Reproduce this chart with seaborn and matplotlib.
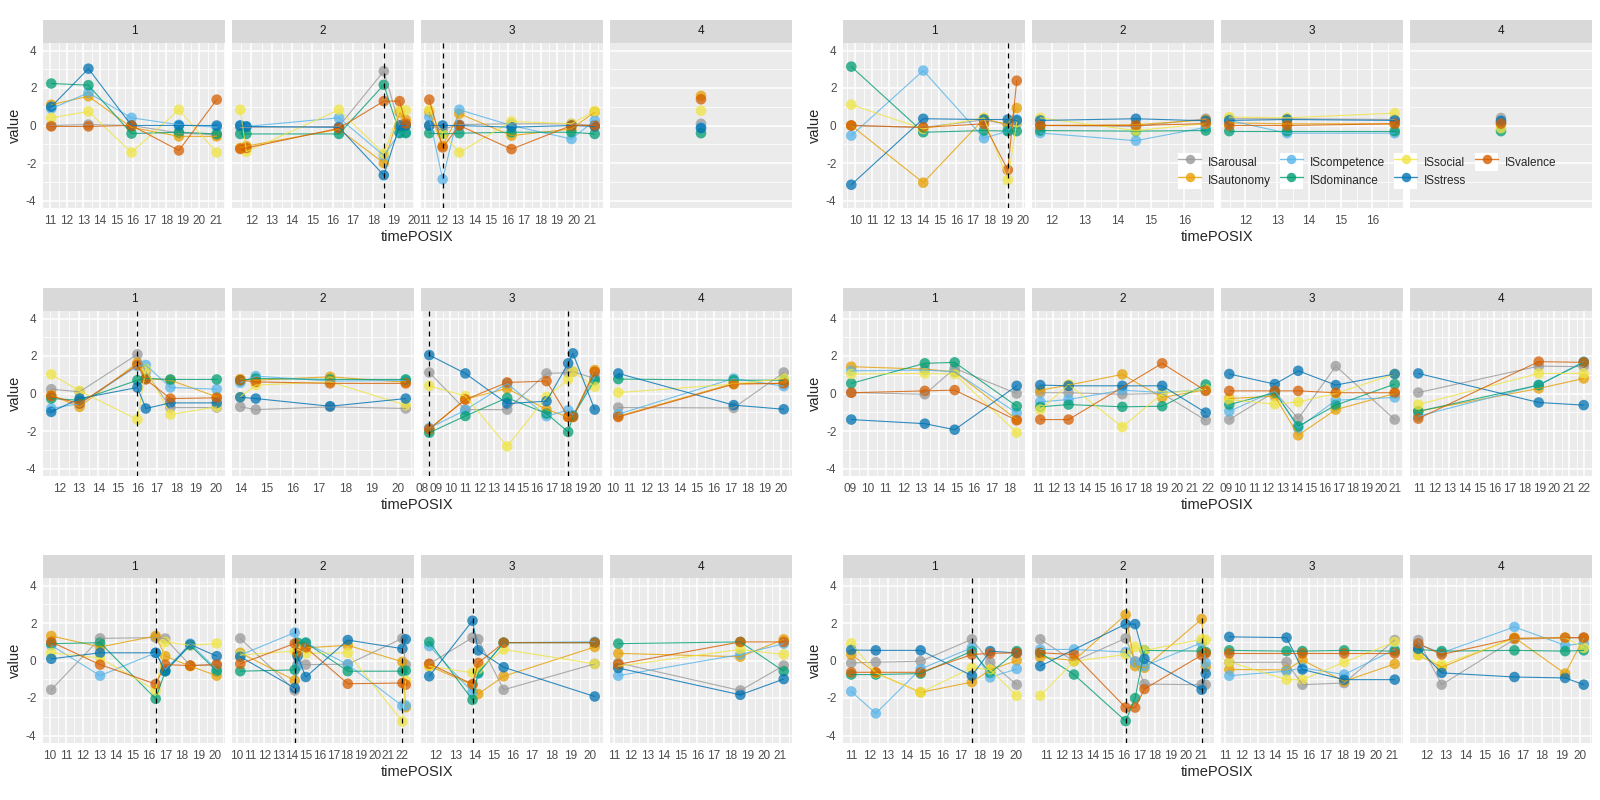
import matplotlib
matplotlib.use("Agg")
import matplotlib.pyplot as plt
from matplotlib.lines import Line2D
from matplotlib.patches import Rectangle
from matplotlib.legend_handler import HandlerLine2D
import numpy as np
import pandas as pd
import seaborn as sns

SERIES = ["ISarousal", "ISautonomy", "IScompetence", "ISdominance",
          "ISsocial", "ISstress", "ISvalence"]
COLORS = ["#999999", "#E69F00", "#56B4E9", "#009E73", "#F0E442", "#0072B2", "#D55E00"]

# ---- panel A (top left) ----
a_facet = [1, 1, 1, 1, 1, 2, 2, 2, 2, 2, 2, 3, 3, 3, 3, 3, 3, 4]
a_time = [11.06, 13.3, 15.9, 18.76, 21.04, 11.45, 11.75, 16.31, 18.52, 19.3, 19.6,
          11.26, 12.07, 13.08, 16.24, 19.87, 21.28, 15.0]
a_arousal = [0.0, 0.05, 0.0, -0.4, -0.5, -0.1, -0.1, -0.05, 2.9, 0.0, 0.0,
             0.0, -0.2, 0.05, 0.09, 0.09, 0.0, 0.09]
a_autonomy = [1.11, 1.56, -0.1, -0.58, -0.58, -1.2, -1.1, -0.2, -2.0, 0.7, 0.3,
              0.72, -1.08, 0.63, -0.54, -0.18, 0.72, 1.58]
a_competence = [0.9, 1.74, 0.41, 0.04, -0.09, 0.0, -0.05, 0.41, -1.6, -0.4, -0.4,
                0.45, -2.87, 0.84, 0.0, -0.72, 0.27, -0.1]
a_dominance = [2.24, 2.15, -0.43, -0.36, -0.45, -0.45, -0.45, -0.45, 2.17, -0.4, -0.4,
               -0.41, -0.45, -0.41, -0.36, -0.36, -0.45, -0.41]
a_social = [0.41, 0.75, -1.44, 0.84, -1.44, 0.84, -1.4, 0.84, -1.5, 0.8, 0.82,
            0.84, -0.45, -1.44, 0.22, 0.09, 0.77, 0.79]
a_stress = [1.0, 3.03, 0.0, 0.0, 0.0, 0.0, -0.05, -0.1, -2.65, 0.0, 0.0,
            0.0, 0.0, 0.0, -0.09, 0.0, -0.05, -0.14]
a_valence = [-0.05, -0.05, 0.0, -1.33, 1.38, -1.25, -1.2, -0.15, 1.3, 1.3, 0.1,
             1.38, -1.17, 0.0, -1.26, 0.0, 0.0, 1.4]
a_vline_facet = [2, 3]
a_vline_time = [18.52, 12.07]

# ---- panel B (top right) ----
b_facet = [1, 1, 1, 1, 1, 2, 2, 2, 3, 3, 3, 4]
b_time = [9.76, 14.04, 17.65, 19.07, 19.6, 11.65, 14.54, 16.65, 11.49, 13.31, 16.7, 15.0]
b_arousal = [0.0, -0.1, 0.3, 0.05, 0.09, 0.0, -0.05, 0.36, 0.36, 0.36, 0.32, 0.4]
b_autonomy = [0.0, -3.05, 0.36, 0.05, 0.93, 0.0, 0.04, 0.3, 0.14, 0.09, 0.09, 0.1]
b_competence = [-0.54, 2.93, -0.68, -0.3, 0.32, -0.4, -0.81, -0.1, 0.27, -0.41, -0.41, 0.2]
b_dominance = [3.14, -0.36, -0.27, -0.3, -0.3, -0.27, -0.3, -0.27, -0.3, -0.3, -0.3, -0.3]
b_social = [1.11, -0.18, 0.41, -2.91, 0.18, 0.41, -0.27, 0.1, 0.45, 0.41, 0.66, -0.14]
b_stress = [-3.16, 0.36, 0.32, 0.32, 0.27, 0.27, 0.36, 0.25, 0.27, 0.32, 0.27, 0.25]
b_valence = [0.0, -0.1, 0.09, -2.37, 2.39, 0.0, 0.0, 0.1, 0.0, 0.0, 0.09, 0.1]
b_vline_facet = [1]
b_vline_time = [19.07]

# ---- panel C (middle left) ----
c_facet = [1, 1, 1, 1, 1, 1, 2, 2, 2, 2, 3, 3, 3, 3, 3, 3, 3, 4, 4, 4]
c_time = [11.59, 13.04, 16.0, 16.43, 17.69, 20.06, 14.0, 14.59, 17.42, 20.3,
          8.53, 11.03, 13.93, 16.66, 18.16, 18.49, 20.0, 10.34, 17.19, 20.16]
c_arousal = [0.23, 0.09, 2.09, 1.16, -0.75, -0.75, -0.71, -0.86, -0.71, -0.8,
             1.12, -0.86, -0.86, 1.07, 1.11, 1.16, 0.8, -0.75, -0.77, 1.12]
c_autonomy = [-0.09, -0.71, 1.64, 0.8, 0.71, -0.18, 0.77, 0.71, 0.89, 0.6,
              -1.88, -0.3, 0.27, -0.86, -1.25, -1.25, 1.25, -1.21, 0.54, 0.54]
c_competence = [-0.8, -0.54, 1.46, 1.52, 0.32, 0.23, 0.57, 0.93, 0.66, 0.7,
                -1.84, -0.89, 0.54, -1.21, -0.89, -1.16, 0.89, -1.1, 0.8, 0.39]
c_dominance = [-0.27, -0.36, 0.71, 0.8, 0.75, 0.75, 0.7, 0.8, 0.75, 0.75,
               -2.09, -1.2, -0.23, -1.07, -2.05, -1.2, 0.71, 0.77, 0.71, 0.71]
c_social = [1.02, 0.14, -1.39, 1.3, -1.12, -0.71, -0.18, 0.45, 0.62, -0.62,
            0.41, -0.14, -2.82, -0.18, 0.75, 1.16, 0.36, 0.05, 0.5, 0.8]
c_stress = [-0.98, -0.27, 0.32, -0.8, -0.5, -0.5, -0.2, -0.27, -0.68, -0.27,
            2.05, 1.07, -0.54, -0.41, 1.61, 2.14, -0.86, 1.07, -0.62, -0.84]
c_valence = [-0.14, -0.54, 1.52, 0.75, -0.27, -0.23, 0.71, 0.62, 0.54, 0.54,
             -1.9, -0.32, 0.59, 0.66, -1.25, -1.25, 1.16, -1.25, 0.5, 0.54]
c_vline_facet = [1, 3, 3]
c_vline_time = [16.0, 8.53, 18.16]

# ---- panel D (middle right) ----
d_facet = [1, 1, 1, 1, 2, 2, 2, 2, 2, 3, 3, 3, 3, 3, 4, 4, 4]
d_time = [9.06, 13.22, 14.91, 18.42, 11.15, 12.98, 16.46, 19.04, 21.86,
          9.24, 12.48, 14.14, 16.81, 21.0, 10.93, 18.96, 21.96]
d_arousal = [0.05, -0.04, 1.34, 0.0, 0.04, 0.04, -0.04, 0.0, -1.43,
             -1.39, 0.09, -1.34, 1.46, -1.39, 0.05, 1.46, 1.43]
d_autonomy = [1.43, 1.3, 1.16, -1.39, 0.18, 0.45, 1.02, -0.21, 0.2,
              -0.27, -0.14, -2.23, -0.86, 0.0, -0.95, 0.27, 0.8]
d_competence = [1.21, 1.25, 1.16, -1.04, -0.45, -0.32, 0.18, 0.05, 0.2,
                -0.95, 0.14, -1.84, -0.36, -0.21, -1.21, 0.45, 1.7]
d_dominance = [0.54, 1.61, 1.66, -0.68, -0.71, -0.59, -0.71, -0.68, 0.48,
               -0.59, 0.04, -1.75, -0.62, 0.5, -0.95, 0.45, 1.66]
d_social = [1.04, 1.07, 1.04, -2.09, -0.86, 0.48, -1.79, 0.0, 0.23,
            -0.32, -0.57, -0.45, 0.0, 1.04, -0.59, 1.07, 1.07]
d_stress = [-1.39, -1.61, -1.93, 0.41, 0.45, 0.41, 0.41, 0.41, -1.02,
            1.04, 0.5, 1.21, 0.45, 1.04, 1.07, -0.48, -0.62]
d_valence = [0.04, 0.14, 0.18, -1.43, -1.39, -1.39, None, 1.61, 0.14,
             0.14, 0.14, 0.14, 0.04, 0.04, -1.34, 1.7, 1.66]
d_vline_facet = []
d_vline_time = []

# ---- panel E (bottom left) ----
e_facet = [1, 1, 1, 1, 1, 1, 2, 2, 2, 2, 2, 2, 2, 3, 3, 3, 3, 3, 4, 4, 4]
e_time = [10.1, 13.05, 16.41, 16.99, 18.5, 20.1, 10.24, 14.2, 14.4, 15.0, 18.05, 22.02, 22.26,
          11.65, 13.9, 14.2, 15.52, 20.26, 11.24, 18.59, 21.2]
e_arousal = [-1.56, 1.18, 1.22, 1.17, -0.27, -0.22, 1.18, -1.6, -0.2, -0.22, -0.2, 1.18, -0.22,
             -0.18, 1.22, 1.13, -1.56, -0.18, -0.13, -1.6, -0.27]
e_autonomy = [1.31, 0.72, 1.31, 0.23, -0.3, -0.81, 0.41, -1.06, 0.32, 0.68, 0.81, -0.07, -2.49,
              -0.3, -1.3, -1.79, -0.84, 0.72, 0.38, 0.2, 1.13]
e_competence = [0.81, -0.81, 0.41, -0.48, 0.9, -0.48, 0.29, 1.49, -0.3, 0.95, -0.22, -2.42, -2.4,
                0.77, -1.69, -0.7, 0.95, 1.0, -0.81, 0.32, 0.9]
e_dominance = [0.9, 0.95, -2.04, -0.57, 0.81, -0.57, -0.57, -0.5, 0.95, 0.95, -0.57, -0.57, -0.54,
               0.99, -2.1, -0.66, 0.95, 0.95, 0.9, 0.99, -0.57]
e_social = [0.41, 0.14, -1.6, 0.99, 0.81, 0.91, 0.29, 0.5, 0.59, 0.38, 0.41, -3.26, -1.08,
            -0.3, -0.66, -0.45, 0.59, -0.18, -0.3, 0.59, 0.32]
e_stress = [0.09, 0.41, 0.41, -0.57, 0.85, 0.23, 0.2, -1.47, 0.23, -0.88, 1.09, 0.63, 1.13,
            -0.84, 2.12, 0.54, -0.36, -1.92, -0.4, -1.83, -0.99]
e_valence = [0.99, -0.22, -1.26, -0.22, -0.27, -0.22, -0.18, 0.91, 0.4, 0.7, -1.24, -1.2, -1.29,
             -0.18, -1.26, -0.13, 0.95, 0.95, -0.2, 0.99, 0.99]
e_vline_facet = [1, 2, 2, 3]
e_vline_time = [16.41, 14.2, 22.02, 13.9]

# ---- panel F (bottom right) ----
f_facet = [1, 1, 1, 1, 1, 1, 2, 2, 2, 2, 2, 2, 2, 3, 3, 3, 3, 3, 4, 4, 4, 4, 4]
f_time = [11.0, 12.34, 14.79, 17.59, 18.59, 20.04, 10.64, 12.81, 16.13, 16.74, 17.34, 21.02, 21.28,
          11.26, 14.68, 15.63, 18.12, 21.14, 11.55, 12.77, 16.56, 19.2, 20.17]
f_arousal = [-0.13, -0.09, -0.04, 1.13, -0.09, -1.29, 1.13, -0.04, 1.18, -0.04, -1.26, -1.29, -1.29,
             -0.1, -0.09, -1.29, -1.2, 1.09, 1.09, -1.29, 1.13, 1.2, 1.22]
f_autonomy = [0.32, -0.66, -1.7, -1.15, -0.5, 0.0, 0.18, 0.0, 2.44, -0.3, -0.39, 2.21, -0.34,
              -0.48, -0.5, 0.02, -1.11, -0.18, 0.29, -0.36, 1.22, -0.7, 1.18]
f_competence = [-1.65, -2.82, -0.45, 0.68, -0.9, -0.45, 0.59, 0.59, 0.45, -0.1, -0.3, 0.95, -0.13,
                -0.81, -0.57, -0.39, -0.75, 0.59, 0.86, 0.41, 1.79, 0.81, 0.9]
f_dominance = [-0.75, -0.75, -0.7, 0.5, -0.66, 0.5, 0.41, -0.75, -3.23, -2.01, 0.54, 0.5, 0.45,
               0.54, 0.5, 0.5, 0.54, 0.5, 0.59, 0.5, 0.54, 0.5, 0.54]
f_social = [0.91, -0.66, -1.7, -0.39, -0.48, -1.88, -1.88, -0.04, 0.32, 0.72, 0.54, 1.13, 1.09,
            -0.07, -1.02, -1.02, -0.09, 0.99, 0.29, -0.22, 1.17, 1.22, 0.68]
f_stress = [0.56, 0.54, 0.54, -0.81, 0.5, 0.4, -0.3, None, 1.94, 1.94, 0.09, -1.56, -0.7,
            1.26, 1.22, -0.48, -1.02, -1.02, 0.63, -0.66, -0.88, -0.93, -1.29]
f_valence = [-0.63, -0.63, -0.63, 0.32, 0.38, 0.41, 0.41, 0.32, -2.51, -2.51, -1.52, 0.29, 0.38,
             0.38, None, 0.38, 0.38, 0.38, 0.9, 0.32, 1.18, 1.22, 1.22]
f_vline_facet = [1, 2, 2]
f_vline_time = [17.59, 16.13, 21.02]


def make_df(facet, time, *cols):
    df = pd.DataFrame({"facet": facet, "time": time})
    for name, vals in zip(SERIES, cols):
        df[name] = pd.array(vals, dtype="Float64").astype(float)
    long = df.melt(id_vars=["facet", "time"], var_name="variable", value_name="value")
    return long.dropna()


PANELS = [
    (make_df(a_facet, a_time, a_arousal, a_autonomy, a_competence, a_dominance,
             a_social, a_stress, a_valence), a_vline_facet, a_vline_time, 0, 0),
    (make_df(b_facet, b_time, b_arousal, b_autonomy, b_competence, b_dominance,
             b_social, b_stress, b_valence), b_vline_facet, b_vline_time, 1, 0),
    (make_df(c_facet, c_time, c_arousal, c_autonomy, c_competence, c_dominance,
             c_social, c_stress, c_valence), c_vline_facet, c_vline_time, 0, 1),
    (make_df(d_facet, d_time, d_arousal, d_autonomy, d_competence, d_dominance,
             d_social, d_stress, d_valence), d_vline_facet, d_vline_time, 1, 1),
    (make_df(e_facet, e_time, e_arousal, e_autonomy, e_competence, e_dominance,
             e_social, e_stress, e_valence), e_vline_facet, e_vline_time, 0, 2),
    (make_df(f_facet, f_time, f_arousal, f_autonomy, f_competence, f_dominance,
             f_social, f_stress, f_valence), f_vline_facet, f_vline_time, 1, 2),
]

sns.set_theme(style="darkgrid")
plt.rcParams["font.family"] = ["Liberation Sans", "DejaVu Sans"]

W, H = 1600, 800
FACET_W, PLOT_H, STRIP_H = 182, 165, 23
COL_X = [[43, 232, 421, 610], [843, 1032, 1221, 1410]]
ROW_TOP = [43, 311, 578]
FS = 8.5

fig = plt.figure(figsize=(16, 8), dpi=100)
fig.patch.set_facecolor("white")


def style_axis(ax, first):
    ax.set_facecolor("#EBEBEB")
    for s in ax.spines.values():
        s.set_visible(False)
    ax.set_ylim(-4.4, 4.4)
    ax.set_yticks([-4, -2, 0, 2, 4])
    ax.set_yticks([-3, -1, 1, 3], minor=True)
    ax.grid(True, which="major", color="white", lw=1.1)
    ax.grid(True, which="minor", color="white", lw=0.55)
    ax.set_axisbelow(True)
    ax.tick_params(axis="x", which="major", length=2.7, width=0.8, color="#333333",
                   labelcolor="#4D4D4D", labelsize=FS, pad=2)
    ax.tick_params(axis="x", which="minor", length=0)
    ax.tick_params(axis="y", which="minor", length=0)
    if first:
        ax.set_yticklabels(["-4", "-2", "0", "2", "4"])
        ax.tick_params(axis="y", which="major", length=2.7, width=0.8, color="#333333",
                       labelcolor="#4D4D4D", labelsize=FS, pad=2)
    else:
        ax.tick_params(axis="y", which="major", length=0, labelleft=False)


for df, vf, vt, col, row in PANELS:
    top = ROW_TOP[row]
    for k in range(1, 5):
        x0 = COL_X[col][k - 1]
        ax = fig.add_axes([x0 / W, 1 - (top + PLOT_H) / H, FACET_W / W, PLOT_H / H])
        sub = df[df["facet"] == k]
        sns.lineplot(data=sub, x="time", y="value", hue="variable", hue_order=SERIES,
                     palette=COLORS, estimator=None, sort=True, lw=0.8, alpha=0.8,
                     legend=False, ax=ax)
        sns.scatterplot(data=sub, x="time", y="value", hue="variable", hue_order=SERIES,
                        palette=COLORS, s=58, alpha=0.75, linewidth=0, legend=False, ax=ax)
        style_axis(ax, k == 1)
        tmin, tmax = sub["time"].min(), sub["time"].max()
        if tmax - tmin < 1e-6:
            ax.set_xlim(tmin - 1, tmax + 1)
            ax.set_xticks([])
            ax.set_xticks([], minor=True)
        else:
            pad = 0.05 * (tmax - tmin)
            lo, hi = tmin - pad, tmax + pad
            ax.set_xlim(lo, hi)
            hours = np.arange(np.ceil(lo), np.floor(hi) + 1)
            ax.set_xticks(hours)
            ax.set_xticklabels([f"{int(h) % 24:02d}" for h in hours])
            halves = np.arange(np.ceil(lo * 2) / 2, hi, 0.5)
            ax.set_xticks([h for h in halves if h % 1 != 0], minor=True)
        for f_, t_ in zip(vf, vt):
            if f_ == k:
                ax.axvline(t_, color="black", lw=0.9, ls=(0, (4, 4)), zorder=5)
        ax.set_xlabel("")
        ax.set_ylabel("")
        # facet strip
        ax.add_patch(Rectangle((0, 1), 1, STRIP_H / PLOT_H, transform=ax.transAxes,
                               fc="#D9D9D9", ec="none", clip_on=False))
        ax.text(0.5, 1 + STRIP_H / PLOT_H / 2, str(k), transform=ax.transAxes,
                ha="center", va="center", fontsize=FS, color="#1A1A1A")
    # panel titles
    xl, xr = COL_X[col][0], COL_X[col][3] + FACET_W
    fig.text((xl + xr) / 2 / W, 1 - (top + PLOT_H + 29) / H, "timePOSIX",
             ha="center", va="center", fontsize=10.5)
    fig.text((15 + 800 * col) / W, 1 - (top + PLOT_H / 2) / H, "value",
             ha="center", va="center", rotation=90, fontsize=10.5)


class KeyHandler(HandlerLine2D):
    def create_artists(self, legend, orig_handle, xdescent, ydescent, width, height,
                       fontsize, trans):
        arts = super().create_artists(legend, orig_handle, xdescent, ydescent,
                                      width, height, fontsize, trans)
        bg = Rectangle((-xdescent, -ydescent), width, height, fc="white", ec="none",
                       transform=trans)
        return [bg] + list(arts)


handles = [Line2D([], [], color=c, marker="o", markersize=6.8, lw=1.0, alpha=0.8,
                  markeredgewidth=0) for c in COLORS]
fig.legend(handles, SERIES, loc="upper left", bbox_to_anchor=(1178 / W, 1 - 153 / H),
           ncol=4, frameon=False, fontsize=FS, handlelength=1.95, handleheight=1.95,
           handletextpad=0.55, columnspacing=0.8, labelspacing=0, borderpad=0,
           borderaxespad=0, handler_map={Line2D: KeyHandler()})

fig.savefig("out.png", dpi=100)
